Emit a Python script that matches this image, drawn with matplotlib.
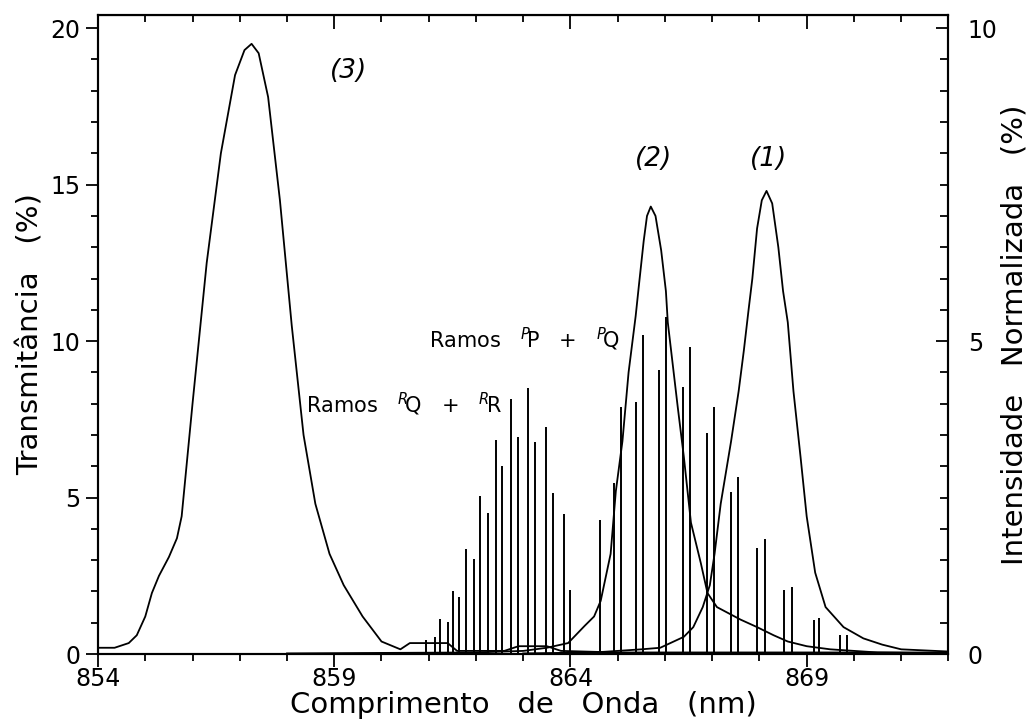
import matplotlib
matplotlib.use("Agg")
import matplotlib.pyplot as plt
from matplotlib.ticker import MultipleLocator, FormatStrFormatter

# transmittance curves (left axis, %), wavelength in nm
wl_3 = [854.0, 854.35, 854.65, 854.82, 855.0, 855.14, 855.29, 855.5, 855.67, 855.77,
        856.0, 856.3, 856.6, 856.9, 857.1, 857.25, 857.4, 857.6, 857.85, 858.1,
        858.35, 858.6, 858.9, 859.2, 859.6, 860.0, 860.4, 860.6, 861.4, 861.6,
        862.6, 862.9, 863.5, 863.8, 865.0, 872.0]
tr_3 = [0.2, 0.2, 0.35, 0.6, 1.2, 1.95, 2.5, 3.1, 3.7, 4.4,
        8.0, 12.5, 16.0, 18.5, 19.3, 19.5, 19.2, 17.8, 14.5, 10.5,
        7.0, 4.8, 3.2, 2.2, 1.2, 0.4, 0.15, 0.35, 0.35, 0.1,
        0.1, 0.25, 0.25, 0.1, 0.05, 0.05]

wl_2 = [858.0, 862.0, 863.0, 863.5, 863.95, 864.3, 864.5, 864.64, 864.85, 864.96,
        865.1, 865.23, 865.38, 865.45, 865.55, 865.62, 865.7, 865.8, 865.92, 866.02,
        866.06, 866.27, 866.4, 866.55, 866.76, 866.9, 867.1, 867.6, 867.95, 868.3,
        868.6, 869.0, 869.5, 870.5, 872.0]
tr_2 = [0.02, 0.05, 0.1, 0.2, 0.35, 0.9, 1.2, 1.7, 3.2, 5.2,
        6.8, 9.0, 10.8, 11.8, 13.2, 14.0, 14.3, 14.0, 12.9, 11.6,
        10.6, 7.9, 6.3, 4.2, 2.9, 1.95, 1.5, 1.1, 0.86, 0.6,
        0.4, 0.25, 0.15, 0.05, 0.02]

wl_1 = [863.0, 864.5, 865.5, 865.9, 866.4, 866.6, 866.8, 866.95, 867.05, 867.18,
        867.4, 867.56, 867.67, 867.77, 867.85, 867.95, 868.05, 868.15, 868.27, 868.4,
        868.5, 868.6, 868.72, 868.87, 869.0, 869.18, 869.4, 869.78, 870.2, 870.6,
        871.0, 872.0]
tr_1 = [0.02, 0.05, 0.15, 0.2, 0.55, 0.86, 1.5, 2.2, 3.2, 4.8,
        6.8, 8.4, 9.7, 11.0, 12.0, 13.6, 14.5, 14.8, 14.4, 13.0,
        11.6, 10.6, 8.4, 6.3, 4.4, 2.6, 1.5, 0.86, 0.5, 0.3,
        0.15, 0.08]

# rotational lines (right axis, normalized intensity %)
line_wl = [860.94, 861.13, 861.24, 861.40, 861.51, 861.64, 861.78, 861.95, 862.08, 862.25,
           862.42, 862.56, 862.75, 862.90, 863.11, 863.24, 863.49, 863.64, 863.87, 864.00,
           864.63, 864.93, 865.08, 865.39, 865.54, 865.88, 866.02, 866.39, 866.53, 866.89,
           867.04, 867.40, 867.55, 867.95, 868.12, 868.52, 868.69, 869.15, 869.26, 869.70,
           869.85]
line_int = [0.22, 0.27, 0.56, 0.51, 1.0, 0.91, 1.68, 1.52, 2.52, 2.25,
            3.42, 3.0, 4.07, 3.47, 4.25, 3.39, 3.63, 2.57, 2.24, 1.02,
            2.14, 2.73, 3.95, 4.03, 5.1, 4.54, 5.38, 4.27, 4.9, 3.53,
            3.95, 2.59, 2.83, 1.69, 1.84, 1.02, 1.07, 0.55, 0.58, 0.3,
            0.3]

fig = plt.figure(figsize=(10.32, 7.23), dpi=100)
ax0 = fig.add_axes([0.095, 0.0954, 0.824, 0.8838])
ax1 = ax0.twinx()

# curves
ax0.plot(wl_3, tr_3, color='black', linewidth=1.3)
ax0.plot(wl_2, tr_2, color='black', linewidth=1.3)
ax0.plot(wl_1, tr_1, color='black', linewidth=1.3)

# sticks
ax1.vlines(line_wl, 0, line_int, color='black', linewidth=1.4)

# labels inside the plot
ax0.text(859.3, 18.4, '(3)', fontsize=19, style='italic', ha='center')
ax0.text(865.75, 15.6, '(2)', fontsize=19, style='italic', ha='center')
ax0.text(868.2, 15.6, '(1)', fontsize=19, style='italic', ha='center')
ax0.text(861.0, 9.8, r'Ramos   $^{P}\!$P   +   $^{P}\!$Q', fontsize=15, ha='left')
ax0.text(858.4, 7.7, r'Ramos   $^{R}\!$Q   +   $^{R}\!$R', fontsize=15, ha='left')

# limits
ax0.set_xlim(854, 872)
ax0.set_ylim(0, 20.42)
ax1.set_ylim(0, 10.21)

ax0.set_xlabel('Comprimento   de   Onda   (nm)', fontsize=21, labelpad=0)
ax0.set_ylabel('Transmitância   (%)', fontsize=21, labelpad=4)
ax1.set_ylabel('Intensidade   Normalizada   (%)', fontsize=21, labelpad=2)

# ticks
ax0.set_xticks([854, 859, 864, 869])
ax0.xaxis.set_major_formatter(FormatStrFormatter('%d'))
ax0.xaxis.set_minor_locator(MultipleLocator(1))
ax0.yaxis.set_major_locator(MultipleLocator(5))
ax0.yaxis.set_minor_locator(MultipleLocator(1))
ax1.yaxis.set_major_locator(MultipleLocator(5))
ax1.yaxis.set_minor_locator(MultipleLocator(0.5))

ax0.tick_params(axis='both', which='both', direction='out', labelsize=17, width=1.3)
ax0.tick_params(which='major', length=9)
ax0.tick_params(which='minor', length=5)
ax0.tick_params(axis='x', pad=0)
ax1.tick_params(axis='y', which='both', direction='in', labelsize=17, width=1.3, pad=14)
ax1.tick_params(which='major', length=9)
ax1.tick_params(which='minor', length=6)

# top axis with inward ticks, no labels
top = ax0.secondary_xaxis('top')
top.set_xticks([859, 864, 869])
top.xaxis.set_minor_locator(MultipleLocator(1))
top.tick_params(which='both', direction='in', labeltop=False, width=1.3)
top.tick_params(which='major', length=10)
top.tick_params(which='minor', length=5)

for ax in (ax0, ax1):
    for s in ax.spines.values():
        s.set_linewidth(1.5)

plt.savefig('out.png', dpi=100)
